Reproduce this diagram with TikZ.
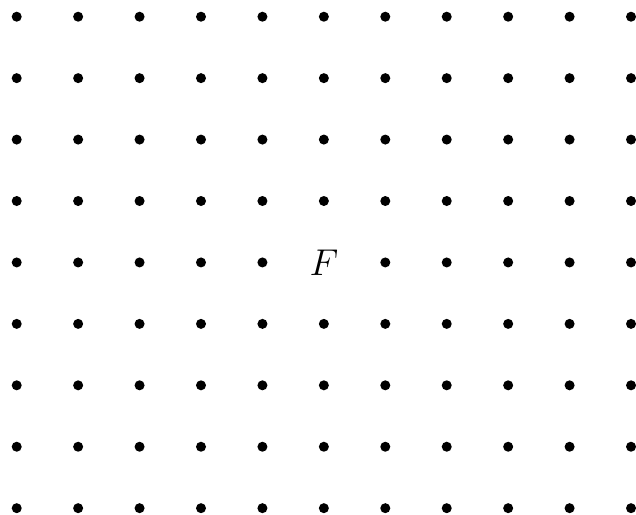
\documentclass[tikz,border=0pt]{standalone}
\begin{document}
\begin{tikzpicture}[x=1cm,y=-1cm,
  dot/.style={circle,fill=black,inner sep=0pt,minimum size=0.163cm},
  lbl/.style={inner sep=0pt,font=\fontsize{16.2}{20}\selectfont}]
\useasboundingbox (-0.272,-0.272) rectangle (10.081,8.10);
\foreach \i in {0,...,10}{
  \foreach \j in {0,...,8}{
    \ifnum\i=5 \ifnum\j=4 \else \node[dot] (d-\i-\j) at (\i,\j) {};\fi
    \else \node[dot] (d-\i-\j) at (\i,\j) {};\fi
  }
}
\node[lbl] (F) at (5,4) {$F$};
\end{tikzpicture}
\end{document}
